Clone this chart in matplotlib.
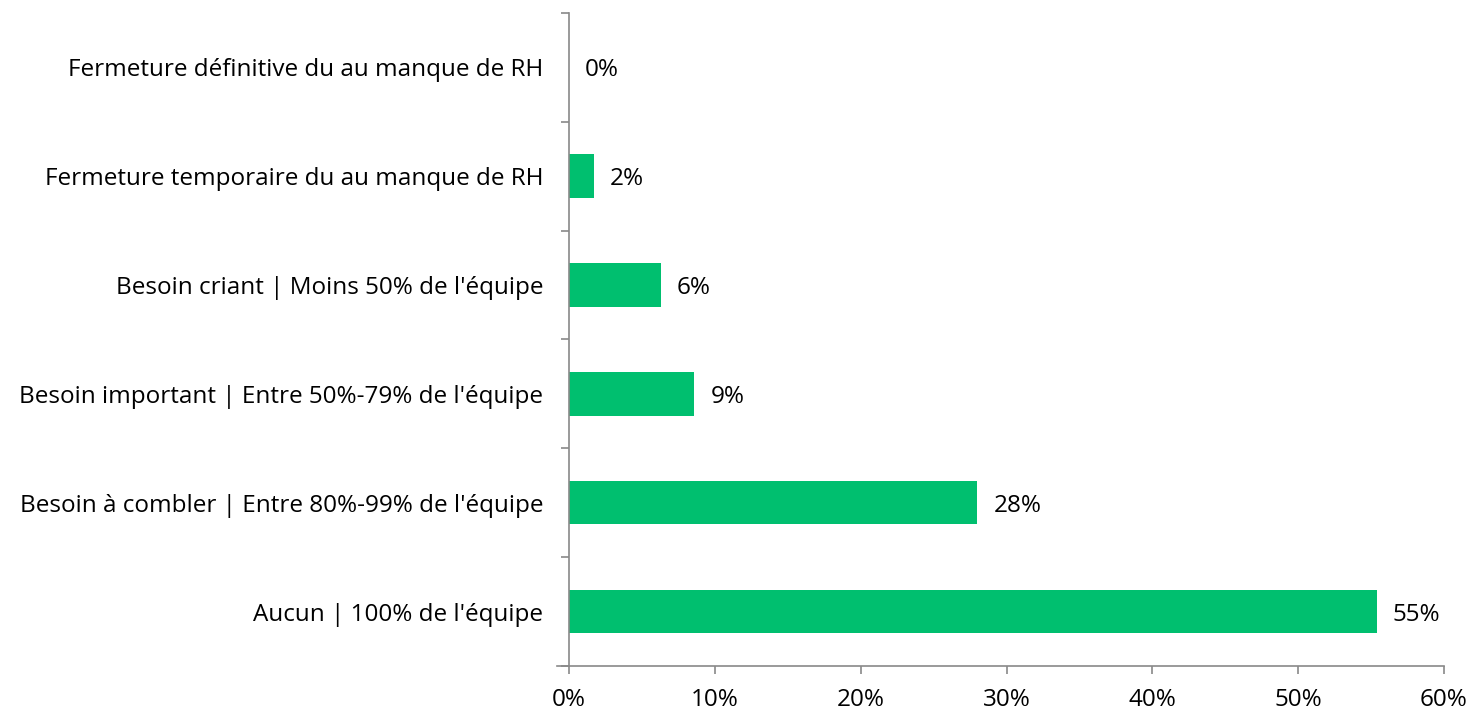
import matplotlib
matplotlib.use("Agg")
import matplotlib.pyplot as plt
from matplotlib.ticker import FixedLocator, PercentFormatter

categories = [
    "Aucun | 100% de l'équipe",
    "Besoin à combler | Entre 80%-99% de l'équipe",
    "Besoin important | Entre 50%-79% de l'équipe",
    "Besoin criant | Moins 50% de l'équipe",
    "Fermeture temporaire du au manque de RH",
    "Fermeture définitive du au manque de RH",
]
values = [55.4, 28.0, 8.6, 6.3, 1.7, 0.0]
xticks = [0, 10, 20, 30, 40, 50, 60]

plt.rcParams['font.family'] = ['Open Sans', 'DejaVu Sans']
fig = plt.figure(figsize=(14.73, 7.13), dpi=100)
ax = fig.add_axes([0.3863, 0.066, 0.5940, 0.916])

green = "#00BF6F"
gray = "#898989"
fs = 17.5
pos = list(range(len(categories)))
ax.barh(pos, values, height=0.4, color=green)
for p, v in zip(pos, values):
    ax.text(v + 1.1, p, f"{round(v):.0f}%", va="center_baseline", ha="left", fontsize=fs, color="#000000")

ax.set_xlim(0, 60)
ax.set_ylim(-0.5, len(categories) - 0.5)
ax.xaxis.set_major_locator(FixedLocator(xticks))
ax.xaxis.set_major_formatter(PercentFormatter(decimals=0))
ax.set_yticks(pos)
ax.set_yticklabels(categories)
ax.yaxis.set_minor_locator(FixedLocator([p - 0.5 for p in pos] + [len(categories) - 0.5]))
ax.tick_params(axis='y', which='major', length=0, pad=18.5, labelsize=fs)
ax.tick_params(axis='y', which='minor', length=6, color=gray, width=1.2)
ax.tick_params(axis='x', which='major', length=6, color=gray, width=1.2, labelsize=fs, pad=10)

for s in ["top", "right"]:
    ax.spines[s].set_visible(False)
for s in ["left", "bottom"]:
    ax.spines[s].set_color(gray)
    ax.spines[s].set_linewidth(1.2)
ax.spines["bottom"].set_bounds(-0.8, 60)

fig.savefig("out.png", dpi=100)
